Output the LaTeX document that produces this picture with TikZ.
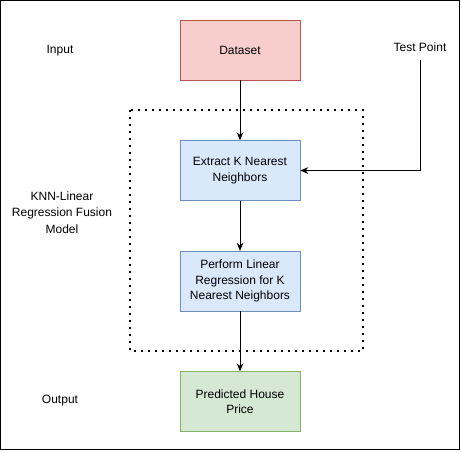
\documentclass[tikz,border=0pt]{standalone}
\usepackage{fontspec}
\setmainfont{Liberation Sans}
\usetikzlibrary{arrows.meta, positioning}

\definecolor{redfill}{HTML}{F8CECC}
\definecolor{reddraw}{HTML}{B85450}
\definecolor{bluefill}{HTML}{DAE8FC}
\definecolor{bluedraw}{HTML}{6C8EBF}
\definecolor{greenfill}{HTML}{D5E8D4}
\definecolor{greendraw}{HTML}{82B366}

\begin{document}
\begin{tikzpicture}[
  node distance = 45pt,
  box/.style    = {draw, minimum width=90pt, minimum height=45pt,
                   align=center, font=\fontsize{9}{11.5}\selectfont, inner sep=2pt},
  data/.style   = {box, fill=redfill, draw=reddraw},
  proc/.style   = {box, fill=bluefill, draw=bluedraw},
  result/.style = {box, fill=greenfill, draw=greendraw},
  tag/.style    = {align=center, font=\fontsize{9}{12.5}\selectfont},
  arr/.style    = {-{Stealth[length=6pt, width=5pt]}, line width=0.75pt},
  region/.style = {line width=1.5pt, dash pattern=on 1.5pt off 3.75pt}
]
  \useasboundingbox (0,0) rectangle (345.75pt,-338.25pt);
  \draw[line width=0.75pt] (0.4pt,-0.4pt) rectangle (344.6pt,-337.4pt);

  %% Main chain
  \node[data] (dataset) at (180pt,-37.5pt) {Dataset};
  \node[proc, below=of dataset] (extract) {Extract K Nearest\\Neighbors};
  \node[proc, below=37.5pt of extract] (perform) {Perform Linear\\Regression for K\\Nearest Neighbors};
  \node[result, below=of perform] (predicted) {Predicted House\\Price};

  %% Side labels
  \node[tag] (input)  at (45pt,-38pt) {Input};
  \node[tag] (model)  at (46.5pt,-159.5pt) {KNN-Linear\\Regression Fusion\\Model};
  \node[tag] (output) at (45pt,-300.5pt) {Output};
  \node[tag] (test)   at (315pt,-35.25pt) {Test Point};

  %% Fusion model region
  \draw[region] (97.5pt,-82.5pt) rectangle (272.25pt,-263.25pt);

  \draw[arr] (dataset) -- (extract);
  \draw[arr] (extract) -- (perform);
  \draw[arr] (perform) -- (predicted);
  \draw[arr] ([yshift=-3pt]test.south) |- (extract.east);
\end{tikzpicture}
\end{document}
